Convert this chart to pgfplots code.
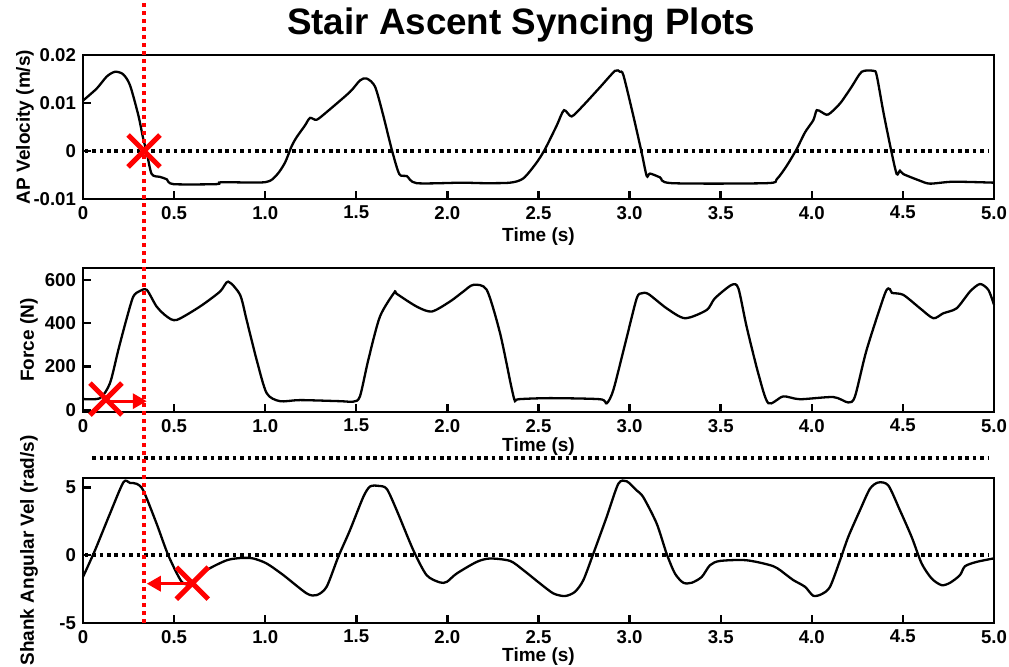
\documentclass[border=0pt]{standalone}
\usepackage{fontspec}
\setmainfont{Liberation Sans}
\usepackage{pgfplots}
\pgfplotsset{compat=1.18}
\usetikzlibrary{arrows.meta}

\tikzset{
  redarrow/.style={red, line width=1.6pt, -{Triangle[length=7pt, width=7.5pt]}},
}
\pgfplotsset{
  syncax/.style={
    scale only axis, width=455.5pt, height=72pt,
    xmin=0, xmax=5,
    axis line style={line width=1.2pt}, every tick/.style={line width=1.2pt, black},
    major tick length=4pt, tick align=inside,
    xtick pos=bottom, ytick pos=left,
    xtick={0,0.5,...,5}, xticklabels={0,0.5,1.0,1.5,2.0,2.5,3.0,3.5,4.0,4.5,5.0},
    scaled y ticks=false,
    tick label style={font=\bfseries\fontsize{9.3}{10}\selectfont},
    /pgf/number format/assume math mode=true,
    label style={font=\bfseries\fontsize{9.5}{10}\selectfont},
    xlabel={Time (s)},
    clip=false,
  },
  sig/.style={black, line width=1.15pt, smooth, tension=0.45},
  zero/.style={black, line width=2pt, dash pattern=on 1.8pt off 1.9pt},
  redx/.style={red, only marks, mark=x, mark size=11.3pt, mark options={line width=2.5pt}},
}

\begin{document}
\begin{tikzpicture}
\useasboundingbox (0,0) rectangle (504.5pt,333pt);

% AP velocity
\begin{axis}[syncax, at={(41.5pt,233.5pt)}, anchor=south west,
  ymin=-0.01, ymax=0.02,
  ytick={-0.01,0,0.01,0.02}, yticklabels={-0.01,0,0.01,0.02},
  ylabel={AP Velocity (m/s)},
  ylabel style={at={(axis description cs:-0.0637,0.5)}, anchor=center},
  xlabel style={at={(axis description cs:0.5,-0.264)}, anchor=center},
  title={Stair Ascent Syncing Plots},
  title style={at={(axis description cs:0.481,1)}, anchor=base, yshift=4pt, font=\bfseries\fontsize{18.4}{19}\selectfont},
]
\addplot[zero] coordinates {(0.01,0) (4.97,0)};
\addplot[sig] coordinates {
(0.00,0.0105) (0.075,0.0130) (0.13,0.0155) (0.175,0.0165) (0.22,0.0160)
(0.258,0.0137) (0.304,0.0074) (0.331,0.0025) (0.35,-0.0003) (0.377,-0.0048)
(0.423,-0.0054) (0.46,-0.0059) (0.496,-0.0069) (0.734,-0.0069) (0.76,-0.0065)
(1.00,-0.0065) (1.063,-0.0050) (1.109,-0.0024) (1.145,0.0010) (1.173,0.0029)
(1.218,0.0053) (1.246,0.0069) (1.282,0.0065) (1.337,0.0081) (1.465,0.0123)
(1.52,0.0147) (1.557,0.0151) (1.603,0.0134) (1.648,0.0074) (1.694,0.0004)
(1.736,-0.0048) (1.777,-0.0052) (1.831,-0.0067) (2.08,-0.0066) (2.197,-0.0067)
(2.344,-0.0066) (2.417,-0.0057) (2.49,-0.0024) (2.536,0.0004) (2.60,0.0053)
(2.64,0.0085) (2.682,0.0072) (2.746,0.0095) (2.838,0.0133) (2.92,0.0167)
(2.947,0.0165) (2.966,0.0158) (3.02,0.0074) (3.066,-0.0003) (3.094,-0.0052)
(3.112,-0.0047) (3.167,-0.0055) (3.231,-0.0067) (3.752,-0.0067) (3.807,-0.0059)
(3.862,-0.0031) (3.917,0.0004) (3.963,0.0039) (4.008,0.0064) (4.027,0.0085)
(4.054,0.0081) (4.09,0.0076) (4.155,0.0099) (4.219,0.0134) (4.274,0.0165)
(4.338,0.0167) (4.356,0.0158) (4.393,0.0081) (4.438,-0.0003) (4.466,-0.0048)
(4.484,-0.0041) (4.502,-0.0048) (4.594,-0.0062) (4.649,-0.0068) (4.777,-0.0064)
(5.00,-0.0066)};
\addplot[redx] coordinates {(0.335,0)};
\end{axis}

% Force
\begin{axis}[syncax, at={(41.5pt,127pt)}, anchor=south west,
  ymin=-10, ymax=655,
  ytick={0,200,400,600}, yticklabels={0,200,400,600},
  ylabel={Force (N)},
  ylabel style={at={(axis description cs:-0.0593,0.5)}, anchor=center},
  xlabel style={at={(axis description cs:0.5,-0.243)}, anchor=center},
]
\addplot[sig] coordinates {
(0.00,50) (0.093,54) (0.148,123) (0.194,277) (0.24,423) (0.276,523) (0.31,548)
(0.35,554) (0.404,477) (0.46,431) (0.514,415) (0.642,477) (0.752,546) (0.797,592)
(0.862,531) (0.898,415) (0.953,231) (1.008,77) (1.081,40) (1.191,45) (1.41,40)
(1.484,38) (1.52,62) (1.566,231) (1.63,431) (1.712,546) (1.72,537) (1.831,477)
(1.914,454) (2.014,500) (2.087,546) (2.142,577) (2.216,554) (2.289,354) (2.35,110)
(2.371,40) (2.389,49) (2.563,54) (2.838,49) (2.874,30) (2.911,92) (2.98,320) (3.039,515)
(3.066,538) (3.103,535) (3.203,469) (3.304,423) (3.423,461) (3.468,515) (3.56,577)
(3.597,561) (3.642,385) (3.706,169) (3.761,31) (3.843,62) (3.935,49) (4.118,59)
(4.2,34) (4.237,62) (4.301,277) (4.402,538) (4.429,557) (4.44,540) (4.502,531)
(4.594,469) (4.667,423) (4.722,446) (4.795,469) (4.868,546) (4.923,581) (4.969,554)
(5.0,485)};
\addplot[redx] coordinates {(0.126,50)};
\draw[redarrow] (axis cs:0.126,40) -- (axis cs:0.35,40);
\end{axis}

% Shank angular velocity
\begin{axis}[syncax, at={(41.5pt,21.5pt)}, anchor=south west, height=72.5pt,
  ymin=-5, ymax=5.7,
  ytick={-5,0,5}, yticklabels={-5,0,5},
  ylabel={Shank Angular Vel (rad/s)},
  ylabel style={at={(axis description cs:-0.0593,0.5)}, anchor=center},
  xlabel style={at={(axis description cs:0.5,-0.234)}, anchor=center},
]
\addplot[zero] coordinates {(0.01,0) (4.97,0)};
\addplot[zero] coordinates {(0.05,7.18) (4.97,7.18)};
\addplot[sig] coordinates {
(0.00,-1.6) (0.066,0.37) (0.148,3.07) (0.222,5.39) (0.258,5.34) (0.295,5.27)
(0.331,4.78) (0.404,2.33) (0.468,0.0) (0.542,-1.96) (0.597,-2.08) (0.679,-1.1)
(0.789,-0.37) (0.87,-0.2) (0.935,-0.24) (1.008,-0.61) (1.1,-1.47) (1.228,-2.82)
(1.283,-2.94) (1.337,-2.33) (1.401,-0.12) (1.465,1.84) (1.538,4.29) (1.575,5.07)
(1.621,5.12) (1.667,4.9) (1.722,3.31) (1.813,0.37) (1.886,-1.47) (1.96,-2.01)
(1.997,-1.96) (2.051,-1.35) (2.161,-0.49) (2.234,-0.24) (2.344,-0.42) (2.417,-1.1)
(2.508,-2.08) (2.582,-2.82) (2.646,-3.01) (2.70,-2.7) (2.746,-1.84) (2.801,0.12)
(2.874,2.82) (2.938,5.27) (2.984,5.46) (3.039,4.78) (3.075,4.29) (3.149,2.33)
(3.203,0.12) (3.249,-1.35) (3.295,-2.03) (3.341,-2.03) (3.396,-1.6) (3.441,-0.74)
(3.496,-0.42) (3.642,-0.37) (3.789,-0.81) (3.862,-1.47) (3.899,-1.84) (3.963,-2.33)
(4.008,-2.99) (4.054,-2.87) (4.1,-2.33) (4.155,-0.37) (4.2,1.35) (4.264,3.31)
(4.319,4.9) (4.365,5.37) (4.42,5.15) (4.484,3.31) (4.548,1.35) (4.603,-0.61)
(4.658,-1.72) (4.713,-2.21) (4.759,-2.03) (4.813,-1.47) (4.841,-0.81) (4.905,-0.49)
(4.996,-0.24)};
\addplot[redx] coordinates {(0.6,-2.06)};
\draw[redarrow] (axis cs:0.6,-2.1) -- (axis cs:0.35,-2.1);
% sync line through all three panels
\draw[red, line width=2pt, dash pattern=on 2pt off 2pt] (axis cs:0.335,-5) -- ++(0,282.5pt);
\end{axis}
\end{tikzpicture}
\end{document}
